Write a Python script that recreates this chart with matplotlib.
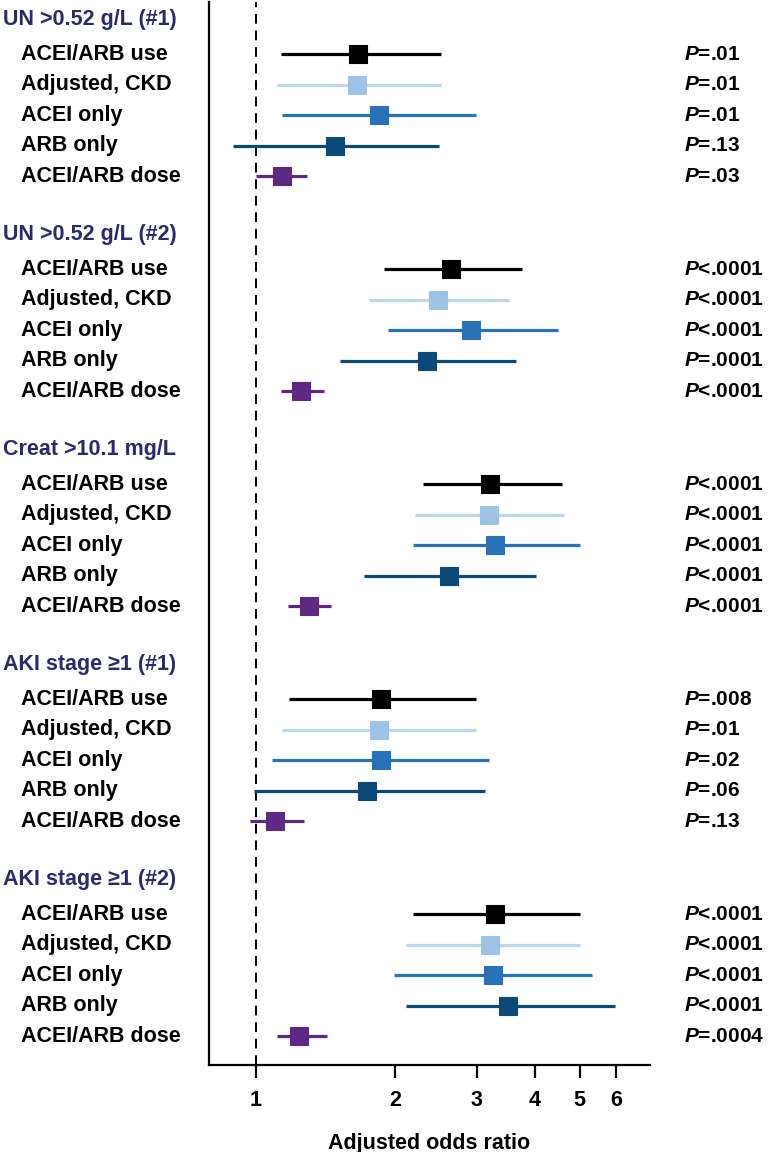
import numpy as np
import matplotlib
matplotlib.use("Agg")
import matplotlib.pyplot as plt
from matplotlib.transforms import blended_transform_factory

plt.rcParams['font.family'] = ['Liberation Sans', 'DejaVu Sans']
plt.rcParams['mathtext.fontset'] = 'custom'
plt.rcParams['mathtext.bfit'] = 'Liberation Sans:italic:bold'
plt.rcParams['mathtext.it'] = 'Liberation Sans:italic:bold'

# ---------------- data ----------------
groups = ["UN >0.52 g/L (#1)", "UN >0.52 g/L (#2)", "Creat >10.1 mg/L",
          "AKI stage \u22651 (#1)", "AKI stage \u22651 (#2)"]
rows = ["ACEI/ARB use", "Adjusted, CKD", "ACEI only", "ARB only", "ACEI/ARB dose"]

or_point = [
    [1.66, 1.65, 1.84, 1.48, 1.14],
    [2.64, 2.47, 2.91, 2.34, 1.25],
    [3.21, 3.18, 3.28, 2.61, 1.30],
    [1.86, 1.84, 1.86, 1.74, 1.10],
    [3.28, 3.21, 3.25, 3.50, 1.24],
]
ci_low = [
    [1.13, 1.11, 1.14, 0.89, 1.00],
    [1.89, 1.75, 1.93, 1.52, 1.13],
    [2.30, 2.20, 2.18, 1.71, 1.17],
    [1.18, 1.14, 1.08, 0.99, 0.97],
    [2.18, 2.11, 1.99, 2.11, 1.11],
]
ci_high = [
    [2.51, 2.51, 2.99, 2.48, 1.29],
    [3.76, 3.52, 4.49, 3.64, 1.40],
    [4.58, 4.63, 5.00, 4.02, 1.45],
    [2.99, 2.99, 3.19, 3.12, 1.27],
    [5.00, 5.00, 5.33, 5.96, 1.42],
]
p_values = [
    ["=.01", "=.01", "=.01", "=.13", "=.03"],
    ["<.0001", "<.0001", "<.0001", "=.0001", "<.0001"],
    ["<.0001", "<.0001", "<.0001", "<.0001", "<.0001"],
    ["=.008", "=.01", "=.02", "=.06", "=.13"],
    ["<.0001", "<.0001", "<.0001", "<.0001", "=.0004"],
]
xticks = [1, 2, 3, 4, 5, 6]

marker_colors = ["#000000", "#9dc3e6", "#2873b8", "#0b4a78", "#5f2885"]
line_colors = ["#000000", "#bdd7ee", "#2873b8", "#0b4a78", "#5f2885"]
header_color = "#2b2a6e"

# ---------------- figure ----------------
W, H = 780, 1152
fig = plt.figure(figsize=(W / 100, H / 100), dpi=100)
ax_left, ax_right, ax_top, ax_bottom = 209, 650, 2, 1065
ax = fig.add_axes([ax_left / W, (H - ax_bottom) / H,
                   (ax_right - ax_left) / W, (ax_bottom - ax_top) / H])
ax.set_xscale('log')
ax.set_xlim(0.791, 7.10)
ax.set_ylim(ax_bottom, ax_top)

trans = blended_transform_factory(fig.transFigure, ax.transData)
fs = 15.5

for g, gname in enumerate(groups):
    y0 = 54.5 + 215 * g
    ax.text(3 / W, y0 - 35, gname, transform=trans, ha='left', va='center',
            fontsize=fs, fontweight='bold', color=header_color)
    for j, rname in enumerate(rows):
        y = y0 + 30.5 * j
        ax.text(21 / W, y, rname, transform=trans, ha='left', va='center',
                fontsize=fs, fontweight='bold', color='black')
        ax.plot([ci_low[g][j], ci_high[g][j]], [y, y], color=line_colors[j],
                lw=2.3, solid_capstyle='butt', zorder=3)
        ax.plot([or_point[g][j]], [y], marker='s', ms=12.5, color=marker_colors[j],
                mec=marker_colors[j], mew=0.8, zorder=4)
        ax.text(684 / W, y, r"$\mathit{P}$" + p_values[g][j], transform=trans,
                ha='left', va='center', fontsize=15, fontweight='bold', color='black')

ax.axvline(1, color='black', lw=1.4, ls=(0, (5, 3.5)), zorder=2)

for s in ['top', 'right']:
    ax.spines[s].set_visible(False)
for s in ['left', 'bottom']:
    ax.spines[s].set_linewidth(1.6)
ax.set_yticks([])
ax.set_xticks(xticks)
ax.set_xticklabels([str(t) for t in xticks], fontsize=15.5, fontweight='bold')
ax.xaxis.set_minor_locator(matplotlib.ticker.NullLocator())
ax.tick_params(axis='x', direction='out', length=9, width=1.6, pad=9)
ax.set_xlabel("Adjusted odds ratio", fontsize=15.5, fontweight='bold', labelpad=16)

fig.savefig("out.png", dpi=100)
